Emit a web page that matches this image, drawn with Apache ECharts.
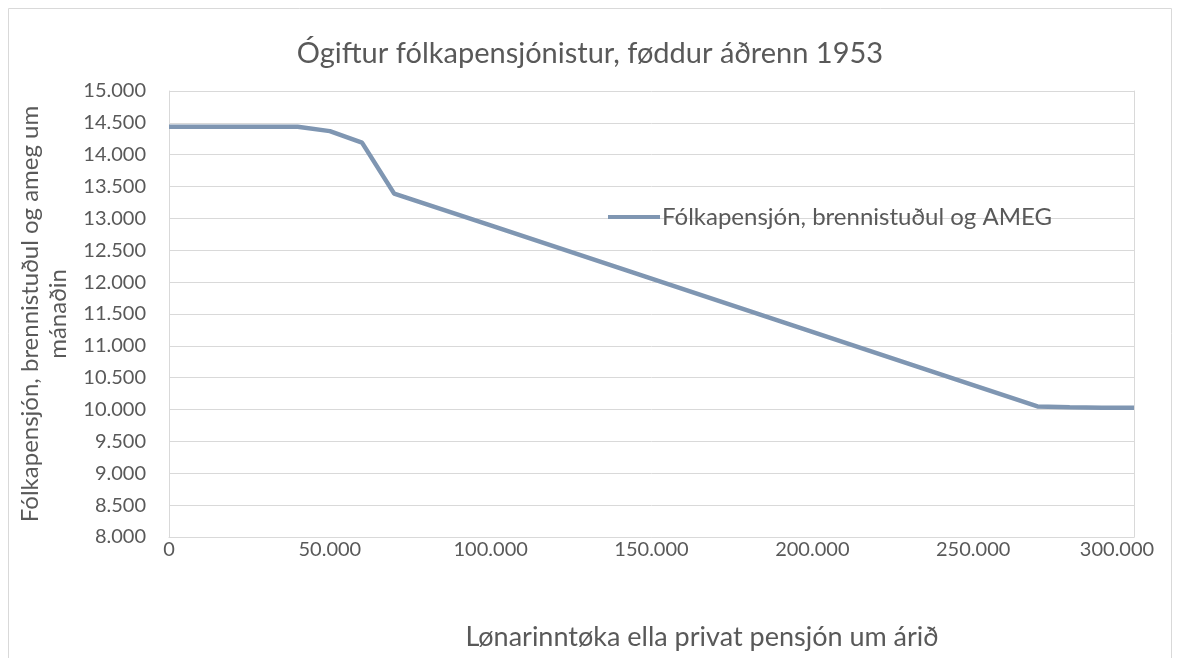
<!DOCTYPE html>
<html><head><meta charset="utf-8">
<script src="https://cdn.jsdelivr.net/npm/echarts@6/dist/echarts.min.js"></script>
<style>html,body{margin:0;padding:0;background:#fff}#c{width:1180px;height:658px}</style>
</head><body><div id="c"></div>
<script>
const titleText = 'Ógiftur fólkapensjónistur, føddur áðrenn 1953';
const seriesName = 'Fólkapensjón, brennistuðul og AMEG';
const xAxisName = 'Lønarinntøka ella privat pensjón um árið';
const yAxisName = 'Fólkapensjón, brennistuðul og ameg um\nmánaðin';
const income = [0, 10000, 20000, 30000, 40000, 50000, 60000, 70000, 100000, 150000, 200000, 250000, 270000, 280000, 290000, 300000];
const pension = [14440, 14440, 14440, 14440, 14440, 14370, 14190, 13390, 12890, 12055, 11220, 10385, 10050, 10035, 10030, 10030];
const fmt = v => Math.round(v).toString().replace(/\B(?=(\d{3})+(?!\d))/g, '.');
const FONT = 'Lato';
const chart = echarts.init(document.getElementById('c'));
chart.setOption({
  animation: false,
  textStyle: {fontFamily: FONT},
  graphic: [{type: 'rect', shape: {x: 8.5, y: 8.5, width: 1163, height: 700}, style: {fill: 'none', stroke: '#d9d9d9', lineWidth: 1}}],
  title: [
    {text: titleText, left: 'center', top: 34, textStyle: {fontFamily: FONT, fontSize: 29, fontWeight: 'normal', color: '#595959'}},
    {text: xAxisName, left: 697, textAlign: 'center', top: 619, textStyle: {fontFamily: FONT, fontSize: 27, fontWeight: 'normal', color: '#595959'}}
  ],
  legend: {left: 603, top: 200, itemWidth: 52, itemHeight: 4, icon: 'rect', itemGap: 0,
    textStyle: {fontFamily: FONT, fontSize: 24, color: '#595959', padding: [0,0,0,-3]}, data: [seriesName]},
  grid: {left: 169, right: 46, top: 91, bottom: 121, containLabel: false, outerBoundsMode: 'none'},
  xAxis: {type: 'value', min: 0, max: 300000, interval: 50000,
    axisLine: {show: true, onZero: false, lineStyle: {color: '#d9d9d9'}}, axisTick: {show: false},
    splitLine: {show: false},
    axisLabel: {formatter: v => v === 300000 ? '{m|' + fmt(v) + '}' : fmt(v), fontSize: 20, color: '#595959', margin: 3,
      rich: {m: {fontFamily: FONT, fontSize: 20, color: '#595959', padding: [0, 34, 0, 0]}}}},
  yAxis: [{type: 'value', min: 8000, max: 15000, interval: 500,
    name: yAxisName, nameLocation: 'middle', nameGap: 93, nameRotate: 90,
    nameTextStyle: {fontFamily: FONT, fontSize: 24, color: '#595959', lineHeight: 28},
    axisLine: {show: true, lineStyle: {color: '#d9d9d9'}}, axisTick: {show: false},
    splitLine: {lineStyle: {color: '#d9d9d9'}},
    axisLabel: {formatter: fmt, fontSize: 20, color: '#595959', margin: 23}},
   {type: 'value', min: 8000, max: 15000, interval: 500, position: 'right',
    axisLine: {show: true, lineStyle: {color: '#d9d9d9'}}, axisTick: {show: false}, axisLabel: {show: false}, splitLine: {show: false}}],
  series: [{name: seriesName, type: 'line', data: income.map((x, i) => [x, pension[i]]),
    showSymbol: false, symbol: 'none', lineStyle: {color: '#7f96b2', width: 4.5}, itemStyle: {color: '#7f96b2'}}]
});
</script></body></html>
